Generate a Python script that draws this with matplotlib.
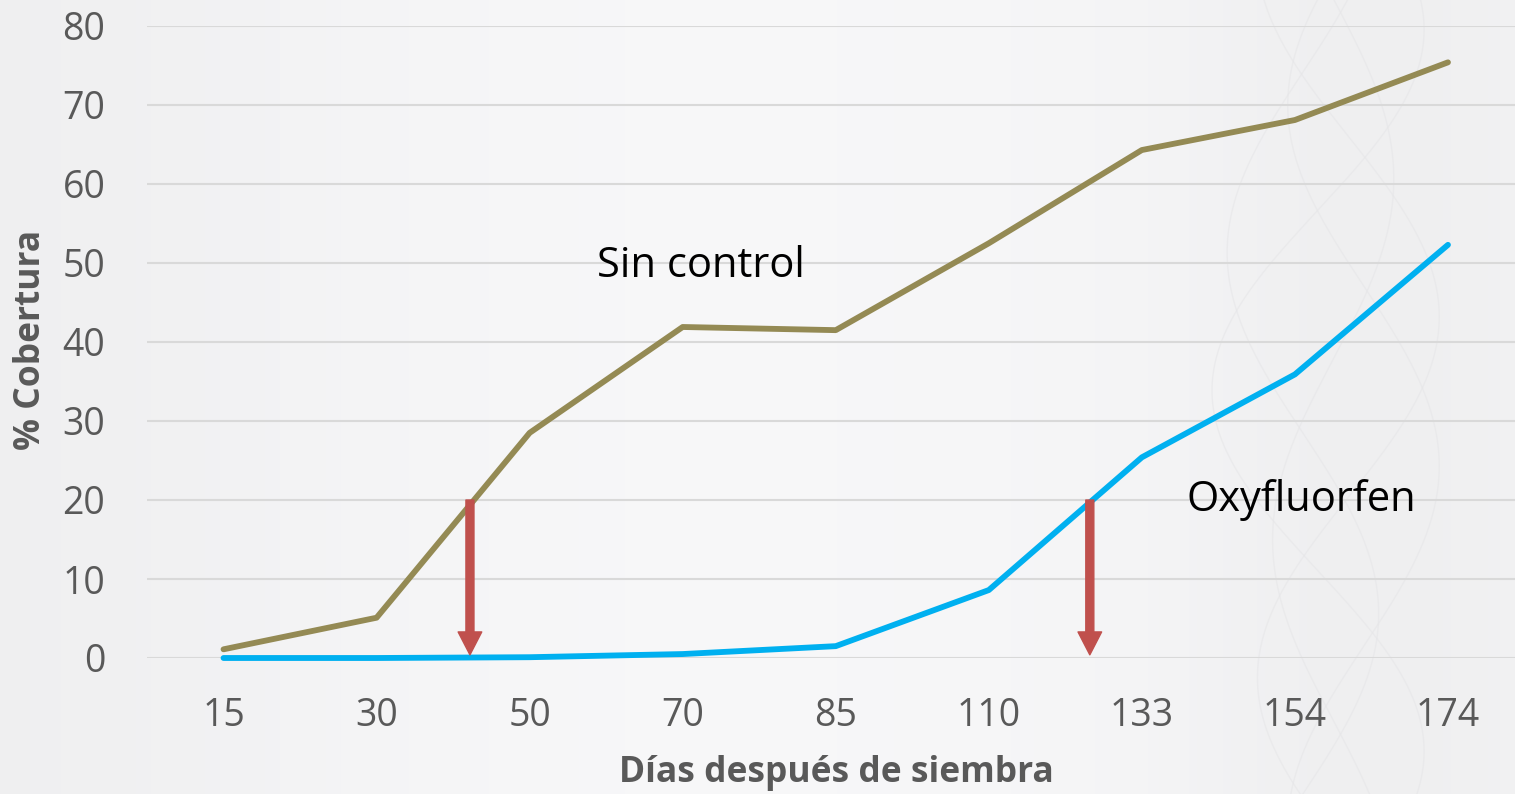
import numpy as np
import matplotlib.pyplot as plt

# days after sowing (categorical axis) and % cover for each treatment
dias = ['15', '30', '50', '70', '85', '110', '133', '154', '174']
sin_control = [1.1, 5.1, 28.5, 41.9, 41.5, 52.5, 64.3, 68.1, 75.4]
oxyfluorfen = [0.0, 0.0, 0.1, 0.5, 1.5, 8.6, 25.4, 35.9, 52.3]

# arrows marking where each curve reaches 20 % cover
flechas_x = [1.61, 5.66]
flechas_y0 = 20
flechas_y1 = 0.4

plt.rcParams['font.family'] = ['Open Sans', 'DejaVu Sans']

W, H = 1515, 794
fig = plt.figure(figsize=(W / 100, H / 100), dpi=100)
fig.patch.set_facecolor('#F3F3F4')

# soft background gradient
bg = fig.add_axes([0, 0, 1, 1], zorder=-10)
gx = np.linspace(0, 1, 400)
grad = 0.955 - 0.018 * np.exp(-((gx - 0.0) / 0.25) ** 2) + 0.015 * np.exp(-((gx - 0.45) / 0.35) ** 2) \
    - 0.02 * np.exp(-((gx - 0.9) / 0.12) ** 2)
img = np.tile(grad, (60, 1))
bg.imshow(np.dstack([img, img, img * 1.005]).clip(0, 1), aspect='auto', extent=[0, 1, 0, 1])
# faint decorative ribbons on the right
t = np.linspace(0, 1, 300)
for k, (a, ph) in enumerate([(0.05, 0.0), (0.07, 1.2), (0.04, 2.5), (0.06, 3.7), (0.05, 5.0)]):
    xs = 0.86 + 0.04 * k / 4 + a * np.sin(2 * np.pi * 1.1 * t + ph)
    bg.plot(xs, t, color='#E6E6E8', lw=1.0, alpha=0.6)
bg.set_xlim(0, 1)
bg.set_ylim(0, 1)
bg.axis('off')

ax = fig.add_axes([147 / W, (H - 658) / H, 1377.5 / W, 632 / H])
ax.set_facecolor('none')

x = np.arange(len(dias))
ax.plot(x, sin_control, color='#948A54', lw=4.2, solid_capstyle='round', solid_joinstyle='round',
        zorder=3, clip_on=False)
ax.plot(x, oxyfluorfen, color='#00B0F0', lw=4.2, solid_capstyle='round', solid_joinstyle='round',
        zorder=3, clip_on=False)

for fx in flechas_x:
    ax.annotate('', xy=(fx, flechas_y1), xytext=(fx, flechas_y0),
                arrowprops=dict(arrowstyle='simple,head_length=0.97,tail_width=0.34,head_width=1.0',
                                color='#C0504D', shrinkA=0, shrinkB=0, mutation_scale=17),
                zorder=4)

ax.text(2.44, 49.6, 'Sin control', fontsize=30, color='black', va='center', ha='left')
ax.text(6.29, 20, 'Oxyfluorfen', fontsize=30, color='black', va='center', ha='left')

ax.set_xlim(-0.5, 8.5)
ax.set_ylim(0, 80)
ax.set_yticks(np.arange(0, 81, 10))
ax.set_xticks(x)
ax.set_xticklabels(dias)
ax.grid(axis='y', color='#D9D9D9', lw=1.5)
ax.set_axisbelow(True)
for s in ax.spines.values():
    s.set_visible(False)
ax.tick_params(length=0, labelsize=27, labelcolor='#595959')
ax.tick_params(axis='y', pad=30)
ax.tick_params(axis='x', pad=28)

fig.text(836 / W, 1 - 773 / H, 'Días después de siembra', fontsize=25.5, fontweight='bold',
         color='#595959', ha='center', va='center')
fig.text(31 / W, 1 - 340 / H, '% Cobertura', fontsize=25.5, fontweight='bold',
         color='#595959', ha='center', va='center', rotation=90)

fig.savefig('out.png', dpi=100, facecolor=fig.get_facecolor())
